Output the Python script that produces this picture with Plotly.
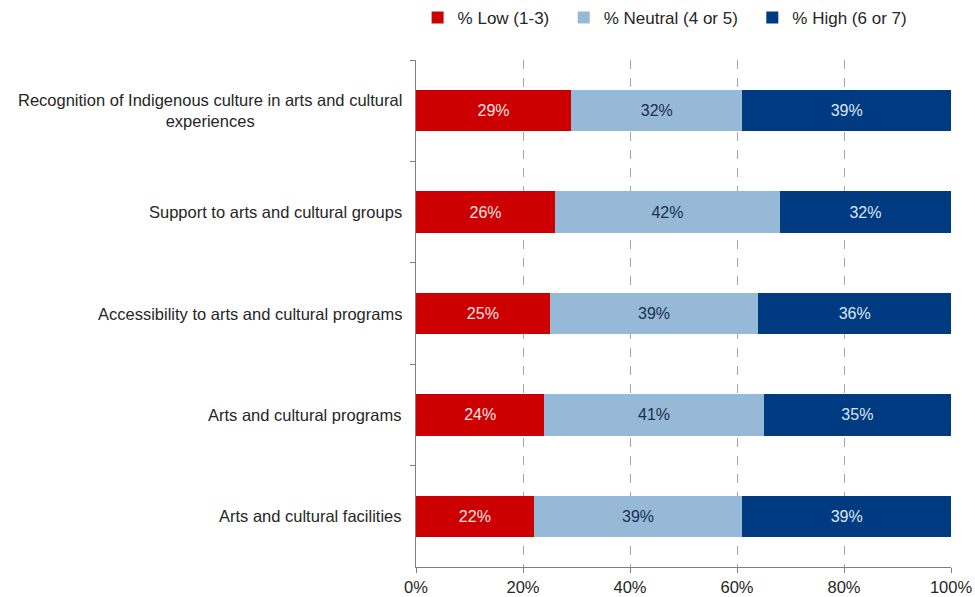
import plotly.graph_objects as go

categories = [
    "Recognition of Indigenous culture in arts and cultural<br>experiences",
    "Support to arts and cultural groups",
    "Accessibility to arts and cultural programs",
    "Arts and cultural programs",
    "Arts and cultural facilities",
]
low = [29, 26, 25, 24, 22]
neutral = [32, 42, 39, 41, 39]
high = [39, 32, 36, 35, 39]
x_ticks = [0, 20, 40, 60, 80, 100]

FONT = "Liberation Sans, Arial, sans-serif"
PAD = "\u00a0\u00a0"  # a little extra room between legend entries
series = [
    ("% Low (1-3)" + PAD, low, "#CC0000", "#FBE3E3"),
    ("% Neutral (4 or 5)" + PAD, neutral, "#95B9D6", "#1C2F4F"),
    ("% High (6 or 7)", high, "#003A80", "#DCE6F2"),
]

fig = go.Figure()
for name, vals, color, txtcolor in series:
    fig.add_trace(go.Bar(
        y=categories, x=vals, name=name, orientation="h",
        marker=dict(color=color, line=dict(width=0)),
        width=0.41,
        text=[f"{v}%" for v in vals], textposition="inside",
        insidetextanchor="middle",
        textfont=dict(color=txtcolor, size=16, family=FONT),
        hoverinfo="skip",
    ))

# category labels, centred per line and right-aligned against the axis
for c in categories:
    fig.add_annotation(
        x=0, xref="paper", y=c, yref="y", text=c, showarrow=False,
        xanchor="right", xshift=-12, align="center",
        font=dict(size=16.5, color="#262626", family=FONT),
    )

fig.update_layout(
    barmode="stack",
    width=975, height=597,
    margin=dict(l=416, r=24, t=60, b=30, autoexpand=False),
    paper_bgcolor="white", plot_bgcolor="white",
    font=dict(family=FONT, size=16.5, color="#262626"),
    legend=dict(
        orientation="h", x=0.003, xanchor="left", y=1.083, yanchor="middle",
        font=dict(size=17, color="#262626", family=FONT),
        itemwidth=30, traceorder="normal", bgcolor="rgba(0,0,0,0)",
    ),
)
fig.update_xaxes(
    range=[0, 100], tickvals=x_ticks, ticktext=[f"{t}%" for t in x_ticks],
    showgrid=True, gridcolor="#A6A6A6", griddash="dash", gridwidth=1,
    showline=True, linecolor="#7F7F7F", linewidth=1,
    ticks="outside", ticklen=5, tickcolor="#7F7F7F",
    zeroline=False, tickfont=dict(size=16.5, color="#262626", family=FONT),
)
fig.update_yaxes(
    autorange="reversed", categoryorder="array", categoryarray=categories,
    showticklabels=False, tickson="boundaries", ticks="outside", ticklen=5,
    tickcolor="#7F7F7F", showline=True, linecolor="#7F7F7F", linewidth=1,
    showgrid=False, zeroline=False,
)

fig.write_html("out.html")
